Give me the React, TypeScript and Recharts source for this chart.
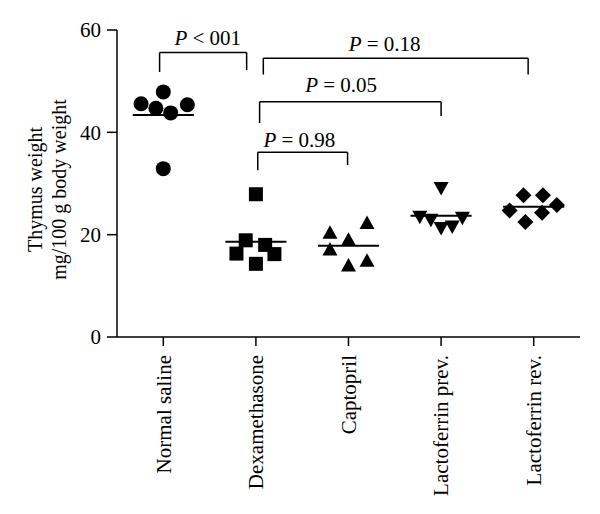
import {
  ScatterChart,
  Scatter,
  XAxis,
  YAxis,
  ReferenceLine,
  ReferenceDot,
} from "recharts";

const groups = [
  "Normal saline",
  "Dexamethasone",
  "Captopril",
  "Lactoferrin prev.",
  "Lactoferrin rev.",
];

// thymus weight (mg/100 g body weight), six animals per group
const normalSaline = [45.6, 47.9, 44.7, 43.8, 45.4, 32.9];
const dexamethasone = [27.9, 18.9, 18.0, 16.3, 16.2, 14.3];
const captopril = [20.3, 18.9, 22.2, 17.0, 13.9, 14.8];
const lactoferrinPrev = [29.2, 23.6, 23.0, 21.4, 21.7, 23.4];
const lactoferrinRev = [27.7, 27.7, 24.7, 25.8, 24.3, 22.5];

// horizontal spread of the points inside each column
const jitterNormal = [-0.24, 0, -0.08, 0.08, 0.26, 0];
const jitterDexa = [0, -0.11, 0.1, -0.21, 0.2, 0];
const jitterCapto = [-0.2, 0, 0.2, -0.2, 0, 0.2];
const jitterPrev = [0, -0.23, -0.11, 0, 0.12, 0.23];
const jitterRev = [-0.11, 0.1, -0.26, 0.25, 0.09, -0.09];

const yTicks = [0, 20, 40, 60];

// significance brackets: from column to column, in axis units
const brackets = [
  { text: " < 001", x1: 0.46, x2: 1.4, y: 55.6, end1: 51.8, end2: 52.2, ty: 57.1, tx: 0.98 },
  { text: " = 0.18", x1: 1.58, x2: 4.44, y: 54.5, end1: 51.3, end2: 51.3, ty: 55.8, tx: 2.89 },
  { text: " = 0.05", x1: 1.54, x2: 3.5, y: 46.0, end1: 41.8, end2: 43.2, ty: 47.9, tx: 2.42 },
  { text: " = 0.98", x1: 1.52, x2: 2.49, y: 36.1, end1: 32.6, end2: 33.6, ty: 37.2, tx: 1.97 },
];

const FONT = "'Liberation Serif', 'Times New Roman', serif";

const series = [
  { values: normalSaline, jitter: jitterNormal, shape: "circle" },
  { values: dexamethasone, jitter: jitterDexa, shape: "square" },
  { values: captopril, jitter: jitterCapto, shape: "up" },
  { values: lactoferrinPrev, jitter: jitterPrev, shape: "down" },
  { values: lactoferrinRev, jitter: jitterRev, shape: "diamond" },
].map((s, i) => ({
  ...s,
  data: s.values.map((v, j) => ({ x: i + 0.5 + s.jitter[j], y: v })),
  mean: s.values.reduce((a, b) => a + b, 0) / s.values.length,
}));

function Marker(props: any) {
  const { cx, cy, kind } = props;
  if (cx == null || cy == null) return null;
  if (kind === "circle") return <circle cx={cx} cy={cy} r={7.5} fill="#000" />;
  if (kind === "square")
    return <rect x={cx - 7} y={cy - 7} width={14} height={14} fill="#000" />;
  if (kind === "up")
    return (
      <polygon
        points={`${cx},${cy - 8} ${cx + 7.5},${cy + 5.5} ${cx - 7.5},${cy + 5.5}`}
        fill="#000"
      />
    );
  if (kind === "down")
    return (
      <polygon
        points={`${cx - 7.5},${cy - 5.5} ${cx + 7.5},${cy - 5.5} ${cx},${cy + 8}`}
        fill="#000"
      />
    );
  return (
    <polygon
      points={`${cx},${cy - 8} ${cx + 8},${cy} ${cx},${cy + 8} ${cx - 8},${cy}`}
      fill="#000"
    />
  );
}

function GroupTick(props: any) {
  const { x, y, payload } = props;
  const name = groups[Math.round(payload.value - 0.5)];
  return (
    <g transform={`translate(${x},${y})`}>
      <text
        x={0}
        y={0}
        dy="0.35em"
        textAnchor="end"
        transform="rotate(-90)"
        fontFamily={FONT}
        fontSize={21}
        fill="#000"
      >
        {name}
      </text>
    </g>
  );
}

function AxisTitle(props: any) {
  const { viewBox } = props;
  const cy = viewBox.y + viewBox.height / 2 + 6;
  const x1 = 42;
  const x2 = 66;
  return (
    <g fontFamily={FONT} fontSize={20} fill="#000">
      <text x={x1} y={cy} textAnchor="middle" transform={`rotate(-90, ${x1}, ${cy})`}>
        Thymus weight
      </text>
      <text x={x2} y={cy} textAnchor="middle" transform={`rotate(-90, ${x2}, ${cy})`}>
        mg/100 g body weight
      </text>
    </g>
  );
}

export default function App() {
  return (
    <div style={{ position: "absolute", left: 0, top: 0, background: "#fff" }}>
      <ScatterChart
        width={600}
        height={514}
        margin={{ top: 30, right: 20, bottom: 27, left: 2 }}
      >
        <XAxis
          type="number"
          dataKey="x"
          domain={[0, 5]}
          ticks={[0.5, 1.5, 2.5, 3.5, 4.5]}
          interval={0}
          height={150}
          tickSize={9}
          tickMargin={9}
          tick={<GroupTick />}
          axisLine={{ stroke: "#000", strokeWidth: 1.5 }}
          tickLine={{ stroke: "#000", strokeWidth: 1.5 }}
        />
        <YAxis
          type="number"
          dataKey="y"
          domain={[0, 60]}
          ticks={yTicks}
          width={115}
          tickSize={10}
          tickMargin={6}
          tick={{ fill: "#000", fontFamily: FONT, fontSize: 21 }}
          axisLine={{ stroke: "#000", strokeWidth: 1.5 }}
          tickLine={{ stroke: "#000", strokeWidth: 1.5 }}
          label={<AxisTitle />}
        />
        {series.map((s, i) => (
          <Scatter
            key={groups[i]}
            name={groups[i]}
            data={s.data}
            isAnimationActive={false}
            shape={(p: any) => <Marker {...p} kind={s.shape} />}
          />
        ))}
        {series.map((s, i) => (
          <ReferenceLine
            key={"mean" + i}
            segment={[
              { x: i + 0.5 - 0.33, y: s.mean },
              { x: i + 0.5 + 0.33, y: s.mean },
            ]}
            stroke="#000"
            strokeWidth={2}
          />
        ))}
        {brackets.map((b, i) => [
          <ReferenceLine
            key={"bh" + i}
            segment={[
              { x: b.x1, y: b.y },
              { x: b.x2, y: b.y },
            ]}
            stroke="#000"
            strokeWidth={1.5}
          />,
          <ReferenceLine
            key={"bl" + i}
            segment={[
              { x: b.x1, y: b.y },
              { x: b.x1, y: b.end1 },
            ]}
            stroke="#000"
            strokeWidth={1.5}
          />,
          <ReferenceLine
            key={"br" + i}
            segment={[
              { x: b.x2, y: b.y },
              { x: b.x2, y: b.end2 },
            ]}
            stroke="#000"
            strokeWidth={1.5}
          />,
          <ReferenceDot
            key={"bt" + i}
            x={b.tx}
            y={b.ty}
            r={0}
            shape={(p: any) => (
              <text
                x={p.cx}
                y={p.cy}
                textAnchor="middle"
                fontFamily={FONT}
                fontSize={21}
                fill="#000"
              >
                <tspan fontStyle="italic">P</tspan>
                {b.text}
              </text>
            )}
          />,
        ])}
      </ScatterChart>
    </div>
  );
}
